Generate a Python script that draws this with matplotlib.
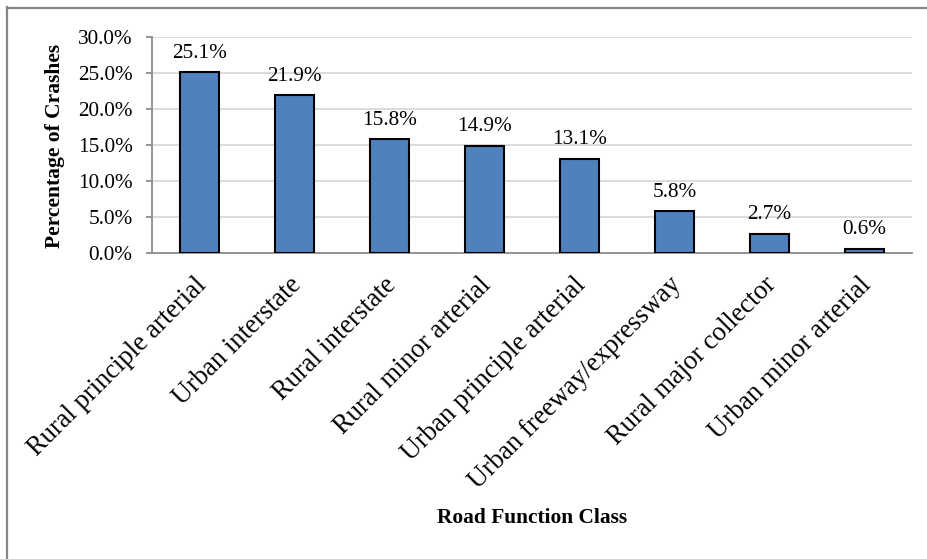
import matplotlib
matplotlib.use("Agg")
import matplotlib.pyplot as plt
import matplotlib.transforms as mtransforms
from matplotlib.lines import Line2D
import numpy as np

# road function classes and share of crashes (%)
categories = [
    "Rural principle arterial",
    "Urban interstate",
    "Rural interstate",
    "Rural minor arterial",
    "Urban principle arterial",
    "Urban freeway/expressway",
    "Rural major collector",
    "Urban minor arterial",
]
crash_pct = [25.1, 21.9, 15.8, 14.9, 13.1, 5.8, 2.7, 0.6]
y_ticks = [0, 5, 10, 15, 20, 25, 30]

plt.rcParams['font.family'] = ['Liberation Serif', 'DejaVu Serif']

W, H = 927, 559
fig = plt.figure(figsize=(W / 100, H / 100), dpi=100)

# axes placed in pixel coordinates
left, right, top, bottom = 152, 912, 37, 253
ax = fig.add_axes([left / W, 1 - bottom / H, (right - left) / W, (bottom - top) / H])

x = np.arange(len(categories))
bars = ax.bar(x, crash_pct, width=0.41, color="#4f81bd", edgecolor="black",
              linewidth=1.5, zorder=3)

for xi, v in zip(x, crash_pct):
    ax.annotate(f"{v:.1f}%", (xi, v), xytext=(0, 7), textcoords="offset points",
                ha="center", va="bottom", fontsize=15.3)

ax.set_xlim(-0.5, len(categories) - 0.5)
ax.set_ylim(0, 30)
ax.set_yticks(y_ticks)
ax.set_yticklabels([f"{t:.1f}%" for t in y_ticks], fontsize=15.3)
ax.yaxis.grid(True, color="#d9d9d9", linewidth=1.3, zorder=0)
ax.set_axisbelow(True)

for s in ["top", "right"]:
    ax.spines[s].set_visible(False)
for s in ["left", "bottom"]:
    ax.spines[s].set_color("#8c8c8c")
    ax.spines[s].set_linewidth(1.3)

ax.tick_params(axis="y", length=4, width=1.3, color="#8c8c8c", pad=10)
ax.tick_params(axis="x", length=0, pad=14)
ax.set_xticks(x)
ax.set_xticklabels(categories, rotation=45, ha="right", va="top",
                   rotation_mode="anchor", fontsize=19.1)

# nudge the slanted labels a little to the left
shift = mtransforms.ScaledTranslation(-6 / 100, 0, fig.dpi_scale_trans)
for lab in ax.get_xticklabels():
    lab.set_transform(lab.get_transform() + shift)

fig.text(532 / W, 1 - 518 / H, "Road Function Class", ha="center", va="center",
         fontsize=15.4, fontweight="bold")
fig.text(55 / W, 1 - 146 / H, "Percentage of Crashes", ha="center", va="center",
         rotation=90, fontsize=15.5, fontweight="bold")

# frame along top and left edge
fig.add_artist(Line2D([7.5 / W, 7.5 / W], [0, 1 - 7 / H], transform=fig.transFigure,
                      color="#868686", linewidth=1.6))
fig.add_artist(Line2D([7 / W, 1], [1 - 7.5 / H, 1 - 7.5 / H], transform=fig.transFigure,
                      color="#868686", linewidth=1.6))

fig.savefig("out.png", dpi=100, facecolor="white")
